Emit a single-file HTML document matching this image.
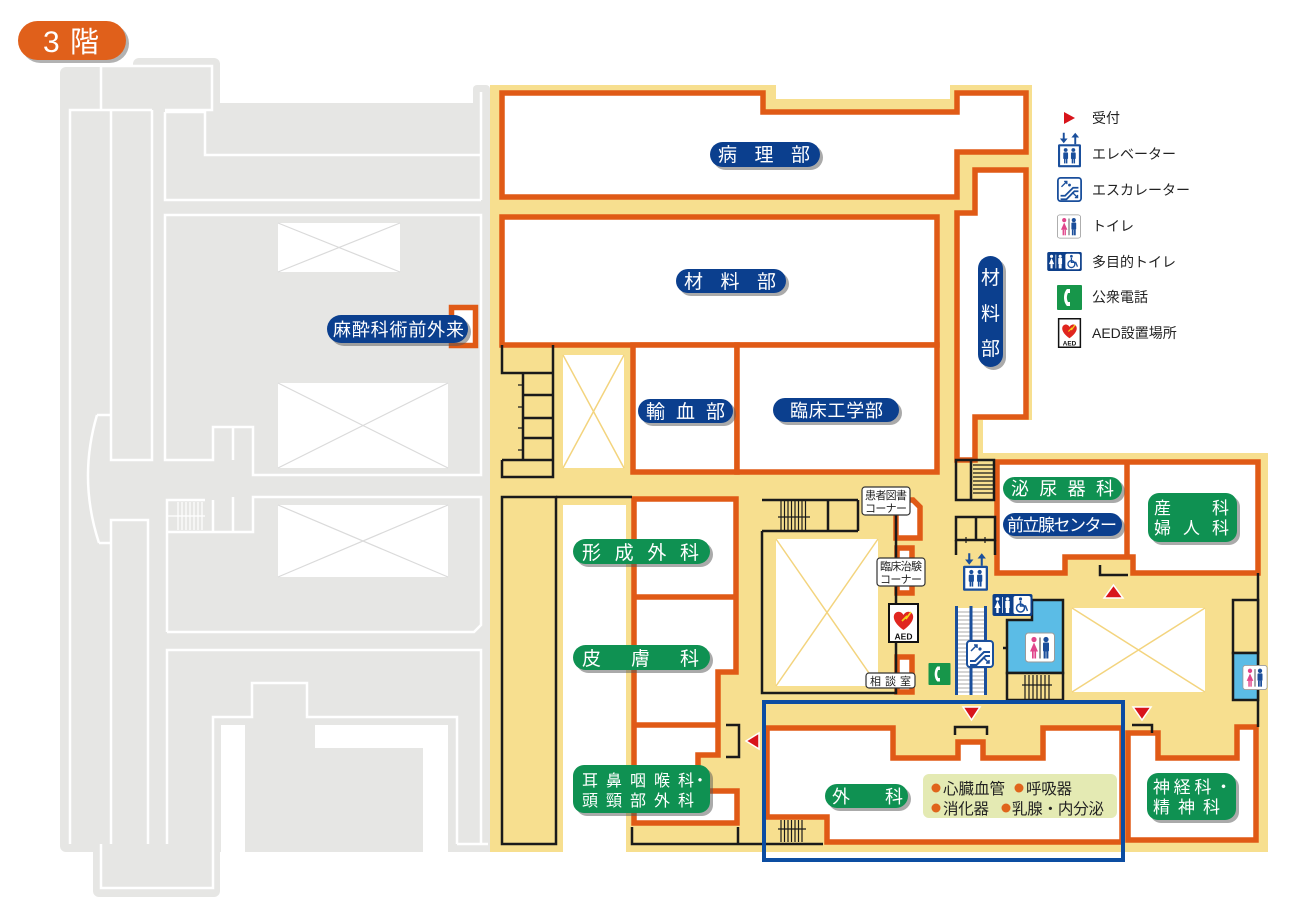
<!DOCTYPE html>
<html><head><meta charset="utf-8">
<style>
html,body{margin:0;padding:0;background:#fff;}
svg{display:block;}
text{font-family:"Liberation Sans","Noto Sans CJK JP",sans-serif;}
</style></head><body>
<svg width="1300" height="900" viewBox="0 0 1300 900" xmlns="http://www.w3.org/2000/svg">
<defs>
 <symbol id="elev" viewBox="0 0 24 36">
  <path d="M6,0 V8" stroke="#1a4f9c" stroke-width="2"/>
  <polygon points="2,6 10,6 6,11" fill="#1a4f9c"/>
  <path d="M18,4 V12" stroke="#1a4f9c" stroke-width="2"/>
  <polygon points="14,5 22,5 18,0" fill="#1a4f9c"/>
  <rect x="0" y="12" width="24" height="24" rx="1.5" fill="#1a4f9c"/>
  <rect x="2.2" y="14.2" width="19.6" height="19.6" fill="#fff"/>
  <circle cx="8" cy="18" r="2" fill="#1a4f9c"/><circle cx="16" cy="18" r="2" fill="#1a4f9c"/>
  <rect x="5.5" y="20.5" width="5" height="7" rx="1" fill="#1a4f9c"/><rect x="13.5" y="20.5" width="5" height="7" rx="1" fill="#1a4f9c"/>
  <rect x="6.3" y="27" width="1.5" height="5" fill="#1a4f9c"/><rect x="8.3" y="27" width="1.5" height="5" fill="#1a4f9c"/>
  <rect x="14.3" y="27" width="1.5" height="5" fill="#1a4f9c"/><rect x="16.3" y="27" width="1.5" height="5" fill="#1a4f9c"/>
 </symbol>
 <symbol id="esc" viewBox="0 0 28 28">
  <rect x="1" y="1" width="26" height="26" rx="3" fill="#fff" stroke="#1a4f9c" stroke-width="2"/>
  <path d="M4,21 H9 L18,12 H24 M4,25 H10.5 L19.5,16 H24" stroke="#1a4f9c" stroke-width="2" fill="none"/>
  <path d="M5,11 L11,5 M8,5 H11 V8 M17,17 L23,23 M20,23 H23 V20" stroke="#1a4f9c" stroke-width="1.5" fill="none"/>
  <circle cx="14" cy="9" r="1.6" fill="#1a4f9c"/>
 </symbol>
 <symbol id="wc" viewBox="0 0 30 30">
  <rect x="0.5" y="0.5" width="29" height="29" rx="3" fill="#fff" stroke="#9a9a9a"/>
  <circle cx="9" cy="7" r="2.6" fill="#e0458a"/>
  <path d="M9,10 L13,19 L5,19 Z" fill="#e0458a"/>
  <rect x="7" y="19" width="1.7" height="7" fill="#e0458a"/><rect x="9.4" y="19" width="1.7" height="7" fill="#e0458a"/>
  <path d="M15,5 V26" stroke="#333" stroke-width="1"/>
  <circle cx="21" cy="7" r="2.6" fill="#1b4e9b"/>
  <rect x="18" y="10" width="6" height="9" rx="1" fill="#1b4e9b"/>
  <rect x="18.6" y="19" width="2.1" height="7" fill="#1b4e9b"/><rect x="21.3" y="19" width="2.1" height="7" fill="#1b4e9b"/>
 </symbol>
 <symbol id="mwc" viewBox="0 0 40 22">
  <rect x="0" y="0" width="40" height="22" rx="2" fill="#0d3f8a"/>
  <circle cx="5" cy="5" r="1.8" fill="#fff"/><path d="M5,7 L8,14 L2,14 Z" fill="#fff"/><rect x="3.8" y="14" width="2.4" height="5" fill="#fff"/>
  <path d="M10,3 V19" stroke="#fff" stroke-width="0.8"/>
  <circle cx="15" cy="5" r="1.8" fill="#fff"/><rect x="12.8" y="7" width="4.4" height="7" fill="#fff"/><rect x="13.3" y="14" width="3.4" height="5" fill="#fff"/>
  <rect x="21" y="2" width="17" height="18" rx="2" fill="#fff"/>
  <circle cx="28" cy="5" r="1.6" fill="#1a4f9c"/>
  <circle cx="28" cy="14" r="4" fill="none" stroke="#1a4f9c" stroke-width="1.5"/>
  <path d="M28,7 V12 H33 L35,17" fill="none" stroke="#1a4f9c" stroke-width="1.5"/>
 </symbol>
 <symbol id="tel" viewBox="0 0 25 25">
  <rect x="0" y="0" width="25" height="25" rx="1" fill="#17964a"/>
  <path d="M10,4 h3 v4 h-2 c-1.5,3 -1.5,6 0,9 h2 v4 h-3 c-4,-4 -4,-13 0,-17z" fill="#fff"/>
 </symbol>
 <symbol id="aed" viewBox="0 0 31 40">
  <rect x="1" y="1" width="29" height="38" fill="#fff" stroke="#111" stroke-width="2"/>
  <path d="M15.5,27 C4,19 4,11 9,9 C12,8 14.5,10 15.5,12 C16.5,10 19,8 22,9 C27,11 27,19 15.5,27 Z" fill="#e0261f"/>
  <path d="M14,18 L19,13 L18,16 L23,9" stroke="#f5d21a" stroke-width="1.6" fill="none"/>
  <text x="15.5" y="36.5" font-size="8.5" font-weight="bold" text-anchor="middle" fill="#111">AED</text>
 </symbol>
</defs>

<!-- ===== left gray building ===== -->
<g fill="#e6e6e4">
 <rect x="60" y="67" width="160" height="785" rx="6"/>
 <rect x="133" y="58" width="87" height="60" rx="6"/>
 <rect x="200" y="103" width="290" height="749"/>
 <rect x="473" y="85" width="17" height="30" rx="4"/>
 <rect x="93" y="840" width="127" height="57" rx="6"/>
</g>
<g fill="#fff">
 <rect x="221" y="725" width="24" height="128"/>
 <rect x="315" y="725" width="133" height="23"/>
 <rect x="423" y="748" width="25" height="105"/>
</g>
<g fill="none" stroke="#fff" stroke-width="2.5">
 <path d="M70,844 V110 H152"/>
 <path d="M101,110 V66 H212 V110 H165"/>
 <path d="M111,110 V460 H152 V110"/>
 <path d="M97,415 H111 M99,543 H111 M97,415 Q78,479 99,543"/>
 <path d="M111,844 V520 H148 V844"/>
 <path d="M165,112 H205 V155 H481 M165,112 V200 H481 M481,92 V200"/>
 <path d="M165,215 H481 V475 H253 V427 H213 V460 H165 Z M233,427 V460"/>
 <path d="M167,632 V500 H205 M213,500 V532 H167 M213,532 H253 V497 H481 V625 L474,632 H167 M233,497 V532"/>
 <path d="M167,844 V650 H481 V844 M213,844 V717 H252 V683 H307 V717 H457 V844 M457,844 H488"/>
 <path d="M101,844 V888 H213 V844"/>
</g>
<g stroke="#fff" stroke-width="1.2">
 <path d="M178,502 V530 M182,502 V530 M186,502 V530 M190,502 V530 M194,502 V530 M198,502 V530 M202,502 V530 M167,516 H205"/>
</g>
<g>
 <rect x="278" y="223" width="122" height="49" fill="#fff"/>
 <rect x="278" y="383" width="170" height="85" fill="#fff"/>
 <rect x="278" y="505" width="170" height="72" fill="#fff"/>
 <path d="M278,223 L400,272 M400,223 L278,272 M278,383 L448,468 M448,383 L278,468 M278,505 L448,577 M448,505 L278,577" stroke="#dadada" stroke-width="1.2"/>
</g>

<!-- ===== 3階 ===== -->
<rect x="21" y="24" width="108" height="39" rx="19.5" fill="#555" opacity="0.45"/>
<rect x="18" y="21" width="108" height="39" rx="19.5" fill="#e0601b"/>
<text x="43" y="52" font-size="30" fill="#fff">3</text>
<text x="70" y="52" font-size="29" fill="#fff">階</text>

<!-- ===== yellow building ===== -->
<path d="M490,85 H776 V99 H950 V85 H1032 V420 H983 V453 H1268 V852 H626 V505 H563 V852 H490 Z" fill="#f7df8f"/>

<!-- rooms -->
<g fill="#fff" stroke="#e05a16" stroke-width="5.5">
 <path d="M502,93 H763 V112 H957 V93 H1026 V152 H957 V197 H502 Z"/>
 <rect x="502" y="217" width="435" height="128"/>
 <rect x="633" y="345" width="104" height="127"/>
 <rect x="737" y="345" width="200" height="127"/>
 <path d="M957,460 V213 H975 V170 H1026 V417 H975 V460 Z"/>
 <path d="M634,499 H736 V672 H718 V755 H698 V791 H737 V823 H634 Z"/>
 <path d="M896,500 H913 L920,507 V538 H896 Z"/>
 <path d="M897,548 H912 V593 H897 Z"/>
 <path d="M897,657 H912 V692 H897 Z"/>
 <path d="M997,462 H1258 V573 H1133 V557 H1065 V573 H997 Z"/>
 <path d="M767,728 H893 V758 H958 V742 H983 V758 H1043 V728 H1122 V842 H827 V817 H767 Z"/>
 <path d="M1128,733 H1158 V758 H1237 V727 H1256 V840 H1128 Z"/>
 <rect x="451.5" y="307.5" width="24" height="38"/>
</g>
<g fill="none" stroke="#e05a16" stroke-width="5.5">
 <path d="M634,597 H736 M634,725 H718 M1127,462 V557"/>
</g>

<!-- cross boxes (yellow X) -->
<g>
 <rect x="563" y="355" width="61" height="113" fill="#fff"/>
 <rect x="776" y="539" width="102" height="147" fill="#fff"/>
 <rect x="1072" y="608" width="133" height="84" fill="#fff"/>
 <path d="M563,355 L624,468 M624,355 L563,468 M776,539 L878,686 M878,539 L776,686 M1072,608 L1205,692 M1205,608 L1072,692" stroke="#f3d47e" stroke-width="1.5"/>
</g>

<!-- black lines -->
<g fill="none" stroke="#1a1a1a" stroke-width="2.5">
 <path d="M502,345 V373 H553 M523,373 V460 M502,460 V477 H553 V345 M502,460 H553 M523,395 H553 M523,418 H553 M523,438 H553"/>
 <rect x="502" y="497" width="54" height="347"/>
 <path d="M556,497 H632"/>
 <path d="M632,827 V844 H823 M738,827 V844"/>
 <path d="M726,725 H739 V757 H726"/>
 <path d="M762,500 H858 M828,500 V531 M858,500 V531 M762,531 H858 M762,531 V693 H896 V500"/>
 <rect x="956" y="460" width="38" height="40"/>
 <path d="M971,460 V500"/>
 <rect x="956" y="517" width="39" height="23"/>
 <path d="M976,517 V540 M956,540 V555 M995,540 V555"/>
 <path d="M1100,565 V575 H1128"/>
 <path d="M955,735 V727 H987 V735 M1132,725 H1152 V733"/>
 <path d="M1258,573 V727"/>
 <path d="M1003,648 H1012"/>
</g>
<g stroke="#1a1a1a" stroke-width="1.2">
 <path d="M518,385 H523 M518,407 H523 M518,428 H523 M518,450 H523"/>
 <path d="M781,500 V531 M784.5,500 V531 M788,500 V531 M791.5,500 V531 M795,500 V531 M798.5,500 V531 M802,500 V531 M805.5,500 V531 M778,517 H810"/>
 <path d="M973,465 H994 M973,469 H994 M973,473 H994 M973,477 H994 M973,481 H994 M973,485 H994 M973,489 H994 M973,493 H994"/>
 <path d="M966,537 V543 M985,537 V543"/>
 <path d="M781,820 V842 M784.5,820 V842 M788,820 V842 M791.5,820 V842 M795,820 V842 M798.5,820 V842 M802,820 V842 M778,829 H806"/>
</g>

<!-- escalator -->
<rect x="955" y="608" width="32" height="87" fill="#fff"/>
<g stroke="#a8a8a8" stroke-width="0.9">
 <path d="M956,612 H986 M956,616 H986 M956,620 H986 M956,624 H986 M956,628 H986 M956,632 H986 M956,636 H986 M956,640 H986 M956,644 H986 M956,648 H986 M956,652 H986 M956,656 H986 M956,660 H986 M956,664 H986 M956,668 H986 M956,672 H986 M956,676 H986 M956,680 H986 M956,684 H986 M956,688 H986 M956,692 H986"/>
</g>
<path d="M956.5,606 V695 M971,606 V695 M985.5,606 V695" stroke="#1a4f9c" stroke-width="3"/>

<!-- toilet room blue -->
<path d="M1007,620 H1032 V600 H1063 V673 H1007 Z" fill="#5bbce6" stroke="#1a1a1a" stroke-width="2.5"/>
<rect x="1007" y="673" width="56" height="27" fill="#f7df8f" stroke="#1a1a1a" stroke-width="2.5"/>
<path d="M1025,675 V700 M1029,675 V700 M1033,675 V700 M1037,675 V700 M1041,675 V700 M1045,675 V700 M1049,675 V700 M1022,685 H1052" stroke="#1a1a1a" stroke-width="1.2"/>
<rect x="1233" y="600" width="25" height="53" fill="#f7df8f" stroke="#1a1a1a" stroke-width="2.5"/>
<rect x="1233" y="653" width="25" height="47" fill="#5bbce6" stroke="#1a1a1a" stroke-width="2.5"/>

<!-- triangles -->
<g fill="#d8141b" stroke="#fff" stroke-width="1.5">
 <polygon points="963,707 980,707 971.5,720"/>
 <polygon points="1133,707 1151,707 1142,720"/>
 <polygon points="1104,598 1123,598 1113.5,585"/>
 <polygon points="759,733 759,749 746,741"/>
</g>

<!-- map icons -->
<use href="#elev" x="963" y="552" width="25" height="40"/>
<use href="#mwc" x="992" y="594" width="41" height="22"/>
<use href="#esc" x="966" y="639" width="28" height="30"/>
<use href="#wc" x="1025" y="632" width="30" height="31"/>
<use href="#wc" x="1242" y="665" width="26" height="25"/>
<use href="#aed" x="888" y="603" width="31" height="40"/>
<use href="#tel" x="928" y="663" width="23" height="22"/>

<!-- small white labels -->
<g fill="#fff" stroke="#333" stroke-width="1.2">
 <rect x="862" y="487" width="48" height="28" rx="3"/>
 <rect x="877" y="558" width="48" height="28" rx="3"/>
 <rect x="866" y="673" width="49" height="15" rx="3"/>
</g>
<g font-size="11" fill="#222">
 <text x="865" y="499" textLength="42" lengthAdjust="spacing">患者図書</text>
 <text x="865" y="512" textLength="42" lengthAdjust="spacing">コーナー</text>
 <text x="880" y="570" textLength="42" lengthAdjust="spacing">臨床治験</text>
 <text x="880" y="583" textLength="42" lengthAdjust="spacing">コーナー</text>
 <text x="870" y="685" textLength="41" lengthAdjust="spacing">相談室</text>
</g>

<!-- info box -->
<rect x="923" y="774" width="194" height="44" rx="6" fill="#e4eab3"/>
<g fill="#e0651c">
 <circle cx="936" cy="788" r="4.5"/><circle cx="1019" cy="788" r="4.5"/>
 <circle cx="936" cy="808" r="4.5"/><circle cx="1006" cy="808" r="4.5"/>
</g>
<g font-size="15.5" fill="#222">
 <text x="943" y="794" textLength="62" lengthAdjust="spacing">心臓血管</text>
 <text x="1026" y="794" textLength="46" lengthAdjust="spacing">呼吸器</text>
 <text x="943" y="814" textLength="46" lengthAdjust="spacing">消化器</text>
 <text x="1012" y="814" textLength="92" lengthAdjust="spacing">乳腺・内分泌</text>
</g>

<!-- pill shadows -->
<g fill="#555" opacity="0.5">
 <rect x="713" y="145" width="110" height="25" rx="12.5"/>
 <rect x="679" y="272" width="110" height="24" rx="12"/>
 <rect x="981" y="259" width="25" height="111" rx="12.5"/>
 <rect x="641" y="402" width="95" height="24" rx="12"/>
 <rect x="776" y="401" width="126" height="24" rx="12"/>
 <rect x="330" y="318" width="141" height="28" rx="14"/>
 <rect x="1006" y="480" width="119" height="23" rx="11.5"/>
 <rect x="1006" y="516" width="119" height="23" rx="11.5"/>
 <rect x="1151" y="496" width="89" height="49" rx="11"/>
 <rect x="1150" y="776" width="89" height="47" rx="11"/>
 <rect x="576" y="542" width="137" height="25" rx="12.5"/>
 <rect x="576" y="648" width="137" height="25" rx="12.5"/>
 <rect x="576" y="768" width="137" height="48" rx="11"/>
 <rect x="828" y="787" width="83" height="24" rx="12"/>
</g>
<!-- navy pills -->
<g fill="#0b3f8e">
 <rect x="710" y="142" width="110" height="25" rx="12.5"/>
 <rect x="676" y="269" width="110" height="24" rx="12"/>
 <rect x="978" y="256" width="25" height="111" rx="12.5"/>
 <rect x="638" y="399" width="95" height="24" rx="12"/>
 <rect x="773" y="398" width="126" height="24" rx="12"/>
 <rect x="327" y="315" width="141" height="28" rx="14"/>
 <rect x="1003" y="513" width="119" height="23" rx="11.5"/>
</g>
<!-- green pills -->
<g fill="#0f9152">
 <rect x="1003" y="477" width="119" height="23" rx="11.5"/>
 <rect x="1148" y="493" width="89" height="49" rx="11"/>
 <rect x="1147" y="773" width="89" height="47" rx="11"/>
 <rect x="573" y="539" width="137" height="25" rx="12.5"/>
 <rect x="573" y="645" width="137" height="25" rx="12.5"/>
 <rect x="573" y="765" width="137" height="48" rx="11"/>
 <rect x="825" y="784" width="83" height="24" rx="12"/>
</g>
<g fill="#fff">
 <text x="718" y="161" font-size="19" textLength="92" lengthAdjust="spacing">病理部</text>
 <text x="684" y="288" font-size="19" textLength="92" lengthAdjust="spacing">材料部</text>
 <text x="990.5" y="284" font-size="19" text-anchor="middle">材</text>
 <text x="990.5" y="320" font-size="19" text-anchor="middle">料</text>
 <text x="990.5" y="355" font-size="19" text-anchor="middle">部</text>
 <text x="646" y="418" font-size="19" textLength="79" lengthAdjust="spacing">輸血部</text>
 <text x="790" y="417" font-size="18" textLength="93" lengthAdjust="spacing">臨床工学部</text>
 <text x="333" y="336" font-size="18" textLength="131" lengthAdjust="spacing">麻酔科術前外来</text>
 <text x="1011" y="495" font-size="18" textLength="103" lengthAdjust="spacing">泌尿器科</text>
 <text x="1007" y="531" font-size="17" textLength="110" lengthAdjust="spacing">前立腺センター</text>
 <text x="1154" y="514" font-size="17">産</text>
 <text x="1212" y="514" font-size="17">科</text>
 <text x="1154" y="534" font-size="17" textLength="75" lengthAdjust="spacing">婦人科</text>
 <text x="1153" y="793" font-size="17" textLength="79" lengthAdjust="spacing">神経科・</text>
 <text x="1153" y="813" font-size="17" textLength="67" lengthAdjust="spacing">精神科</text>
 <text x="582" y="559" font-size="19" textLength="117" lengthAdjust="spacing">形成外科</text>
 <text x="582" y="665" font-size="19" textLength="117" lengthAdjust="spacing">皮膚科</text>
 <text x="582 606 630 654 678 692" y="786" font-size="16">耳鼻咽喉科・</text>
 <text x="582 606 630 654 678" y="806" font-size="16">頭頸部外科</text>
 <text x="832" y="803" font-size="18">外</text>
 <text x="885" y="803" font-size="18">科</text>
</g>

<!-- blue highlight rect -->
<rect x="764" y="702" width="359" height="158" fill="none" stroke="#0c4da2" stroke-width="4"/>

<!-- legend -->
<polygon points="1064,112 1075,118 1064,124" fill="#d8141b"/>
<use href="#elev" x="1058" y="132" width="23" height="36"/>
<use href="#esc" x="1057" y="177" width="25" height="25"/>
<use href="#wc" x="1057" y="214" width="24" height="25"/>
<use href="#mwc" x="1047" y="252" width="35" height="19"/>
<use href="#tel" x="1057" y="285" width="25" height="25"/>
<use href="#aed" x="1057" y="318" width="25" height="30"/>
<g font-size="14" fill="#222">
 <text x="1092" y="123">受付</text>
 <text x="1092" y="159">エレベーター</text>
 <text x="1092" y="195">エスカレーター</text>
 <text x="1092" y="231">トイレ</text>
 <text x="1092" y="267">多目的トイレ</text>
 <text x="1092" y="302">公衆電話</text>
 <text x="1092" y="338">AED設置場所</text>
</g>
</svg>
</body></html>
